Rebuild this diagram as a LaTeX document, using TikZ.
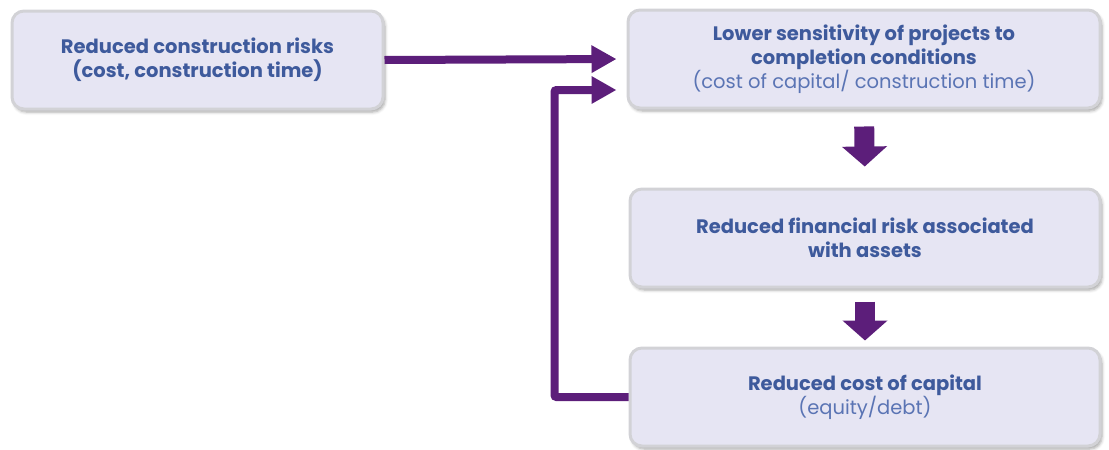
\documentclass[tikz,border=0pt]{standalone}
\usepackage{fontspec}
\setmainfont{Poppins}
\usetikzlibrary{arrows.meta,shadows.blur}
\definecolor{boxfill}{HTML}{E6E5F3}
\definecolor{boxline}{HTML}{D2D2D6}
\definecolor{headblue}{HTML}{3E5A9C}
\definecolor{subblue}{HTML}{5A74B4}
\definecolor{flowpurple}{HTML}{5C1E7A}
\begin{document}
\begin{tikzpicture}[x=1pt,y=-1pt,
  stage/.style={rectangle, rounded corners=12pt, fill=boxfill, draw=boxline, line width=3pt,
    minimum height=98pt, align=center, text=headblue, font=\fontsize{19.5}{24}\selectfont,
    blur shadow={shadow xshift=2pt, shadow yshift=-3pt, shadow blur radius=3pt, shadow opacity=35}},
  flow/.style={draw=flowpurple, line width=8pt, rounded corners=2pt, shorten >=10pt,
    -{Triangle[length=25pt,width=26pt]}},
  step down/.style={draw=flowpurple, line width=20pt,
    -{Triangle[length=20pt,width=44pt]}}]
\useasboundingbox (0,0) rectangle (1109,450);

\node[stage, minimum width=371pt] (risks) at (197.5,60)
  {\textbf{Reduced construction risks}\\\textbf{(cost, construction time)}};
\node[stage, minimum width=472pt] (sensitivity) at (864,59)
  {\textbf{Lower sensitivity of projects to}\\\textbf{completion conditions}\\{\color{subblue}(cost of capital/ construction time)}};
\node[stage, minimum width=470pt] (finrisk) at (865,238)
  {\textbf{Reduced financial risk associated}\\\textbf{with assets}};
\node[stage, minimum width=470pt] (capital) at (865,397)
  {\textbf{Reduced cost of capital}\\{\color{subblue}(equity/debt)}};

\draw[flow] (risks.east) -- (sensitivity.west);
\draw[flow] (capital.west) -- ++(-74,0) |- ([yshift=-31pt]sensitivity.west);
\draw[step down, shorten <=17pt, shorten >=21pt] (sensitivity.south) -- (finrisk.north);
\draw[step down, shorten <=13pt, shorten >=6pt] (finrisk.south) -- (capital.north);
\end{tikzpicture}
\end{document}
